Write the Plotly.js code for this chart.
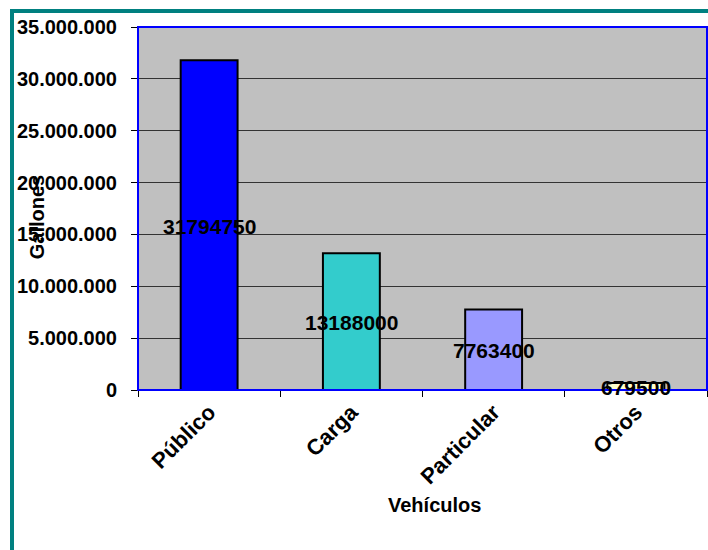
<!DOCTYPE html>
<html>
<head>
<meta charset="utf-8">
<script src="https://cdn.plot.ly/plotly-3.0.1.min.js"></script>
<style>
  body { margin: 0; background: #fff; }
  #wrap { position: relative; width: 708px; height: 550px; }
  #chart { width: 708px; height: 550px; }
  #frame {
    position: absolute; left: 10px; top: 9px; right: 0; bottom: 0;
    border-left: 4px solid #008080; border-top: 4px solid #008080;
    pointer-events: none;
  }
</style>
</head>
<body>
<div id="wrap">
  <div id="chart"></div>
  <div id="frame"></div>
</div>
<script>
// Consumo de combustible por tipo de vehículo (galones)
const categories = ['Público', 'Carga', 'Particular', 'Otros'];
const gallons = [31794750, 13188000, 7763400, 679500];
const barColors = ['#0000ff', '#33cccc', '#9999ff', '#ffffcc'];
const yTicks = [0, 5000000, 10000000, 15000000, 20000000, 25000000, 30000000, 35000000];

const font = 'Liberation Sans, Arial, sans-serif';

const bars = {
  type: 'bar',
  x: categories,
  y: gallons,
  width: 0.4,
  marker: { color: barColors, line: { color: '#000', width: 2 } },
  hoverinfo: 'x+y'
};

// value labels centred at half the bar height
const valueLabels = categories.map((c, i) => ({
  text: String(gallons[i]),
  xref: 'x', yref: 'y',
  x: c, y: gallons[i] / 2,
  xanchor: 'center', yanchor: 'middle', yshift: -1,
  showarrow: false,
  font: { family: font, size: 21, weight: 'bold', color: '#000' }
}));

const layout = {
  width: 708, height: 550,
  margin: { l: 138, r: 1, t: 27, b: 160 },
  paper_bgcolor: '#ffffff',
  plot_bgcolor: '#c0c0c0',
  showlegend: false,
  separators: ',.',
  font: { family: font, color: '#000' },
  xaxis: {
    type: 'category',
    range: [-0.5, 3.5],
    tickangle: -45,
    ticks: 'outside', ticklen: 6, tickcolor: '#000',
    tickson: 'boundaries',
    tickfont: { family: font, size: 22, weight: 'bold' },
    ticklabelstandoff: 4,
    showgrid: false, zeroline: false, showline: false,
    fixedrange: true
  },
  yaxis: {
    range: [0, 35000000],
    tickvals: yTicks,
    tickformat: ',d',
    ticks: 'outside', ticklen: 6, tickcolor: '#000',
    tickfont: { family: font, size: 20, weight: 'bold' },
    ticklabelstandoff: 10,
    showgrid: true, gridcolor: '#333', gridwidth: 1,
    zeroline: false, showline: false,
    fixedrange: true
  },
  shapes: [{
    type: 'rect', xref: 'paper', yref: 'paper',
    x0: 0, x1: 1, y0: 0, y1: 1,
    line: { color: '#0000ff', width: 2 }, fillcolor: 'rgba(0,0,0,0)'
  }],
  annotations: valueLabels.concat([
    {
      text: 'Gallones', xref: 'paper', yref: 'paper',
      x: -0.178, y: 0.475, xanchor: 'center', yanchor: 'middle',
      textangle: -90, showarrow: false,
      font: { family: font, size: 20, weight: 'bold', color: '#000' }
    },
    {
      text: 'Vehículos', xref: 'paper', yref: 'paper',
      x: 0.521, y: -0.317, xanchor: 'center', yanchor: 'middle',
      showarrow: false,
      font: { family: font, size: 20, weight: 'bold', color: '#000' }
    }
  ])
};

Plotly.newPlot('chart', [bars], layout, { displayModeBar: false, staticPlot: true });
</script>
</body>
</html>
